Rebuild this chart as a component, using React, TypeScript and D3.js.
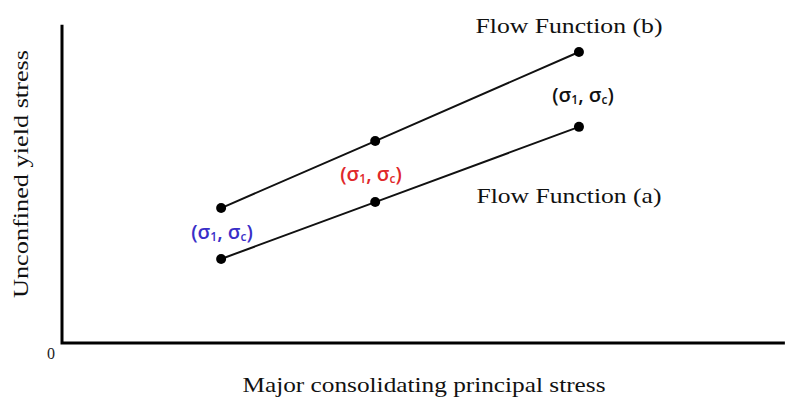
import React from "react";
import * as d3 from "d3";

// Flow function chart: unconfined yield stress vs. major consolidating principal stress
const consolidatingStress = [2.21, 4.35, 7.18];
const flowFunctionA = [2.66, 4.46, 6.84];
const flowFunctionB = [4.27, 6.39, 9.21];
const seriesNames = ["Flow Function (a)", "Flow Function (b)"];
const pointLabelColors = ["#3a2fc8", "#e0282a", "#111111"];

const W = 790;
const H = 405;
const serif = "'Liberation Serif', 'DejaVu Serif', serif";
const sans = "'Open Sans', 'Noto Sans', sans-serif";

function SigmaLabel({ x, y, color }: { x: number; y: number; color: string }) {
  return (
    <text x={x} y={y} fill={color} fontFamily={sans} fontSize={20} fontWeight={600} textAnchor="middle">
      <tspan>(σ</tspan>
      <tspan fontSize={12} dy={2}>1</tspan>
      <tspan dy={-2}>, σ</tspan>
      <tspan fontSize={12} dy={2}>c</tspan>
      <tspan dy={-2}>)</tspan>
    </text>
  );
}

export default function App() {
  const x = d3.scaleLinear().domain([0, 10]).range([62, 782]);
  const y = d3.scaleLinear().domain([0, 10]).range([343, 27]);
  const line = d3
    .line<[number, number]>()
    .x((d) => x(d[0]))
    .y((d) => y(d[1]));

  const ptsA: [number, number][] = consolidatingStress.map((v, i) => [v, flowFunctionA[i]]);
  const ptsB: [number, number][] = consolidatingStress.map((v, i) => [v, flowFunctionB[i]]);

  const x0 = x(0);
  const y0 = y(0);

  return (
    <svg width={W} height={H} style={{ position: "absolute", left: 0, top: 0, background: "#fff" }}>
      <rect width={W} height={H} fill="#fff" />
      {/* axes */}
      <path d={`M${x0},${y(10.07)} V${y0} H${x(10.04)}`} fill="none" stroke="#000" strokeWidth={3} />
      <text x={51} y={359} fontFamily={serif} fontSize={16} textAnchor="middle" fill="#222">0</text>

      {/* flow function lines */}
      {[ptsA, ptsB].map((pts, k) => (
        <g key={k}>
          <path d={line(pts) || ""} fill="none" stroke="#111" strokeWidth={2} />
          {pts.map((p, i) => (
            <circle key={i} cx={x(p[0])} cy={y(p[1])} r={5} fill="#000" />
          ))}
        </g>
      ))}

      {/* series labels */}
      <text x={x(7.18) - 10} y={y(flowFunctionA[1])} dy={1} fontFamily={serif} fontSize={21} textAnchor="middle" fill="#111" textLength={185} lengthAdjust="spacingAndGlyphs">
        {seriesNames[0]}
      </text>
      <text x={x(7.18) - 10} y={33} fontFamily={serif} fontSize={21} textAnchor="middle" fill="#111" textLength={187} lengthAdjust="spacingAndGlyphs">
        {seriesNames[1]}
      </text>

      {/* point labels */}
      <SigmaLabel x={222} y={239} color={pointLabelColors[0]} />
      <SigmaLabel x={371} y={181} color={pointLabelColors[1]} />
      <SigmaLabel x={583} y={102} color={pointLabelColors[2]} />

      {/* axis titles */}
      <text x={424} y={392} fontFamily={serif} fontSize={21} textAnchor="middle" fill="#111" textLength={363} lengthAdjust="spacingAndGlyphs">
        Major consolidating principal stress
      </text>
      <text transform="translate(28,174) rotate(-90)" fontFamily={serif} fontSize={21} textAnchor="middle" fill="#111" textLength={248} lengthAdjust="spacingAndGlyphs">
        Unconfined yield stress
      </text>
    </svg>
  );
}
